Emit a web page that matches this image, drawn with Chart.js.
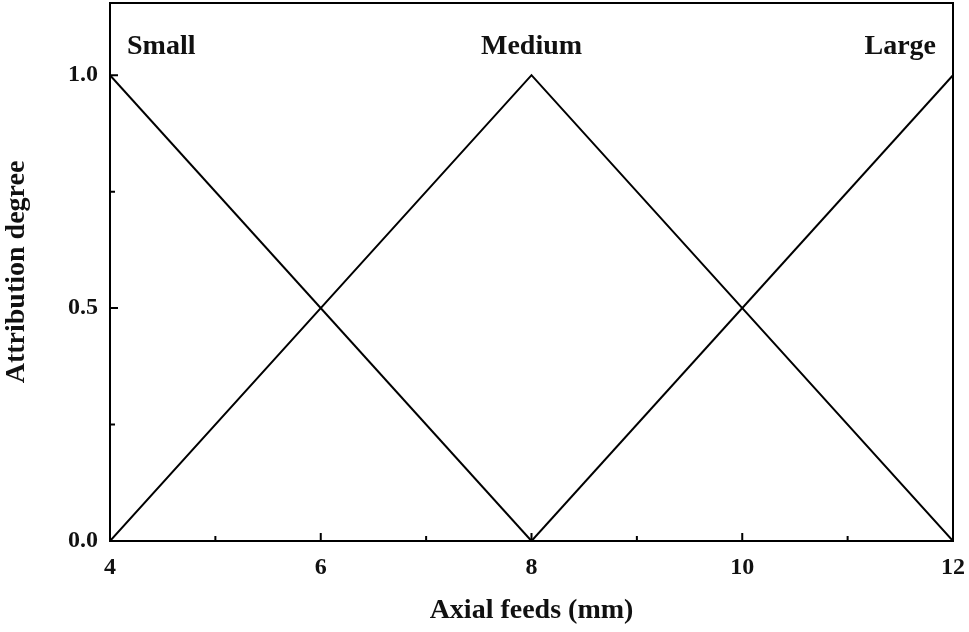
<!DOCTYPE html>
<html>
<head>
<meta charset="utf-8">
<script src="https://cdn.jsdelivr.net/npm/chart.js@4"></script>
<style>
  html, body { margin: 0; padding: 0; background: #fff; }
  #wrap { width: 969px; height: 632px; }
</style>
</head>
<body>
<div id="wrap"><canvas id="myChart" width="969" height="632"></canvas></div>
<script>
// membership functions (x in mm, y attribution degree)
const smallX = [4, 8];
const smallY = [1, 0];
const mediumX = [4, 8, 12];
const mediumY = [0, 1, 0];
const largeX = [8, 12];
const largeY = [0, 1];
const setNames = ['Small', 'Medium', 'Large'];

const xTicks = [4, 6, 8, 10, 12];
const xMinor = [5, 7, 9, 11];
const yTicks = [0, 0.5, 1.0];
const yMinor = [0.25, 0.75];

function pts(xs, ys) {
    return xs.map((x, i) => ({ x: x, y: ys[i] }));
}

const serif = '"Liberation Serif", "Times New Roman", serif';

// frame + inward ticks + set names
const framePlugin = {
    id: 'frame',
    afterDraw(chart) {
        const c = chart.ctx;
        const a = chart.chartArea;
        const xs = chart.scales.x;
        const ys = chart.scales.y;
        c.save();
        c.strokeStyle = '#000';
        c.lineWidth = 2;
        c.strokeRect(a.left, a.top, a.right - a.left, a.bottom - a.top);
        c.beginPath();
        xTicks.forEach(v => {
            const p = xs.getPixelForValue(v);
            c.moveTo(p, a.bottom); c.lineTo(p, a.bottom - 8);
        });
        xMinor.forEach(v => {
            const p = xs.getPixelForValue(v);
            c.moveTo(p, a.bottom); c.lineTo(p, a.bottom - 5);
        });
        yTicks.forEach(v => {
            const p = ys.getPixelForValue(v);
            c.moveTo(a.left, p); c.lineTo(a.left + 8, p);
        });
        yMinor.forEach(v => {
            const p = ys.getPixelForValue(v);
            c.moveTo(a.left, p); c.lineTo(a.left + 5, p);
        });
        c.stroke();

        // names above each peak
        c.fillStyle = '#111';
        c.font = 'bold 28px ' + serif;
        c.textBaseline = 'middle';
        const ty = ys.getPixelForValue(1.06);
        c.textAlign = 'left';
        c.fillText(setNames[0], xs.getPixelForValue(smallX[0]) + 17, ty);
        c.textAlign = 'center';
        c.fillText(setNames[1], xs.getPixelForValue(mediumX[1]), ty);
        c.textAlign = 'right';
        c.fillText(setNames[2], xs.getPixelForValue(largeX[1]) - 17, ty);
        c.restore();
    }
};

const ctx = document.getElementById('myChart');

new Chart(ctx, {
    type: 'line',
    data: {
        datasets: [
            {
                label: 'Small',
                data: pts(smallX, smallY),
                borderWidth: 2,
                borderColor: '#000',
                pointRadius: 0,
            },
            {
                label: 'Medium',
                data: pts(mediumX, mediumY),
                borderWidth: 2,
                borderColor: '#000',
                pointRadius: 0,
            },
            {
                label: 'Large',
                data: pts(largeX, largeY),
                borderWidth: 2,
                borderColor: '#000',
                pointRadius: 0,
            },
        ]
    },
    options: {
        responsive: false,
        animation: false,
        layout: { padding: { top: 3, right: 16, left: 0, bottom: 0 } },
        plugins: {
            legend: { display: false },
            tooltip: { enabled: false }
        },
        scales: {
            x: {
                type: 'linear',
                min: 4,
                max: 12,
                grid: { display: false, drawTicks: false },
                border: { display: false },
                afterBuildTicks: s => { s.ticks = xTicks.map(v => ({ value: v })); },
                afterFit: s => { s.height = 91; s.paddingLeft = 0; s.paddingRight = 0; },
                ticks: {
                    color: '#111',
                    padding: 12,
                    maxRotation: 0,
                    font: { family: serif, size: 24, weight: 'bold' }
                },
                title: {
                    display: true,
                    text: 'Axial feeds (mm)',
                    color: '#111',
                    padding: { top: 13 },
                    font: { family: serif, size: 28, weight: 'bold' }
                }
            },
            y: {
                min: 0,
                max: 1.155,
                grid: { display: false, drawTicks: false },
                border: { display: false },
                afterBuildTicks: s => { s.ticks = yTicks.map(v => ({ value: v })); },
                afterFit: s => { s.width = 110; s.paddingTop = 0; s.paddingBottom = 0; },
                ticks: {
                    color: '#111',
                    padding: 12,
                    callback: v => v.toFixed(1),
                    font: { family: serif, size: 24, weight: 'bold' }
                },
                title: {
                    display: true,
                    text: 'Attribution degree',
                    color: '#111',
                    padding: { top: 0, bottom: 0 },
                    font: { family: serif, size: 28, weight: 'bold' }
                }
            }
        }
    },
    plugins: [framePlugin]
});
</script>
</body>
</html>
